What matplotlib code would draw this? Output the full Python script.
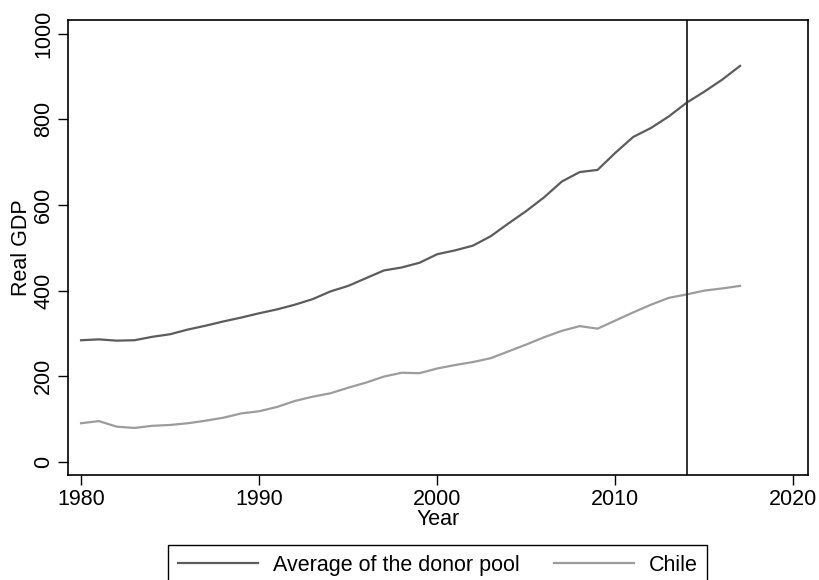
import matplotlib.pyplot as plt

plt.rcParams['font.family'] = ['Liberation Sans', 'DejaVu Sans']

# datos
years = list(range(1980, 2018))
donor_pool = [284, 286, 283, 284, 292, 298, 309, 318, 328, 337,
              347, 356, 367, 380, 398, 411, 429, 447, 454, 465,
              485, 494, 505, 527, 557, 586, 618, 655, 677, 682,
              722, 759, 780, 807, 839, 865, 893, 925]
chile = [90, 95, 82, 79, 84, 86, 90, 96, 103, 113,
         118, 128, 142, 152, 160, 173, 185, 199, 208, 207,
         218, 226, 233, 242, 258, 274, 291, 306, 317, 311,
         330, 349, 367, 383, 391, 400, 405, 411]
treatment_year = 2014
x_ticks = [1980, 1990, 2000, 2010, 2020]
y_ticks = [0, 200, 400, 600, 800, 1000]

fig = plt.figure(figsize=(8.2, 5.8), dpi=100)
ax = fig.add_axes([0.083, 0.181, 0.902, 0.785])

ax.plot(years, donor_pool, color='#5c5c5c', lw=1.6, label='Average of the donor pool')
ax.plot(years, chile, color='#9c9c9c', lw=1.6, label='Chile')
ax.axvline(treatment_year, color='#333333', lw=1.4)

ax.set_xlim(1979.27, 2020.8)
ax.set_ylim(-31, 1033)
ax.set_xticks(x_ticks)
ax.set_yticks(y_ticks)
ax.set_yticklabels([str(v) for v in y_ticks], rotation=90, va='center')
ax.tick_params(labelsize=15.5, length=7, width=1, direction='out', pad=3)
for s in ax.spines.values():
    s.set_linewidth(1.2)

ax.set_xlabel('Year', fontsize=15.5, labelpad=-1)
ax.set_ylabel('Real GDP', fontsize=15.5, labelpad=1)

fig.legend(loc='upper center', bbox_to_anchor=(0.534, 0.0605), ncol=2,
           fontsize=15.5, frameon=True, fancybox=False, edgecolor='black',
           handlelength=3.7, handletextpad=0.7, columnspacing=1.6,
           borderpad=0.45, borderaxespad=0, framealpha=1)

fig.savefig('out.png', dpi=100)
plt.close()
